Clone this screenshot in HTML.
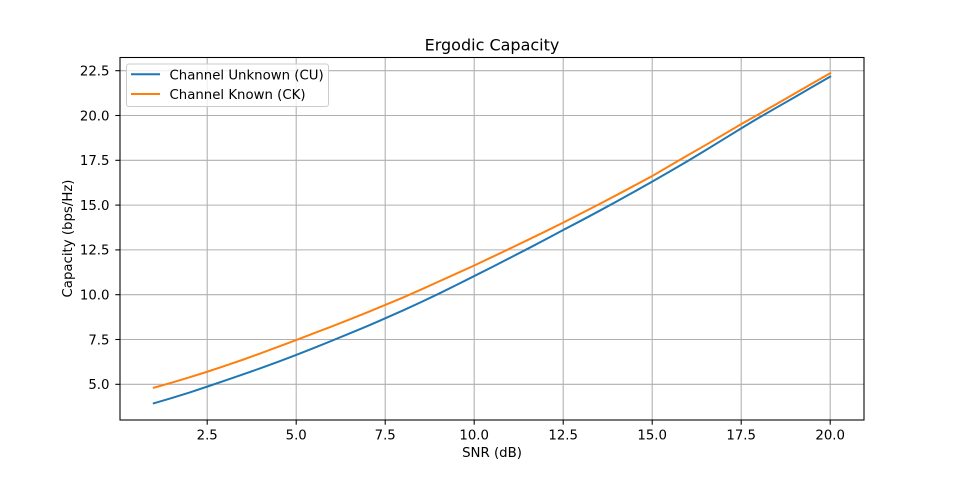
<!DOCTYPE html>
<html>
<head>
<meta charset="utf-8">
<style>
  html, body { margin:0; padding:0; background:#fff; }
  svg { display:block; }
  text { font-family: "DejaVu Sans", "Liberation Sans", sans-serif; fill:#000; }
</style>
</head>
<body>
<svg width="960" height="480" viewBox="0 0 960 480" xmlns="http://www.w3.org/2000/svg">
  <rect x="0" y="0" width="960" height="480" fill="#fff"/>
  <!-- grid -->
  <g stroke="#b0b0b0" stroke-width="1.07" fill="none">
    <line x1="207.2" y1="57.5" x2="207.2" y2="420"/>
    <line x1="296.2" y1="57.5" x2="296.2" y2="420"/>
    <line x1="385.2" y1="57.5" x2="385.2" y2="420"/>
    <line x1="474.2" y1="57.5" x2="474.2" y2="420"/>
    <line x1="563.2" y1="57.5" x2="563.2" y2="420"/>
    <line x1="652.2" y1="57.5" x2="652.2" y2="420"/>
    <line x1="741.2" y1="57.5" x2="741.2" y2="420"/>
    <line x1="830.2" y1="57.5" x2="830.2" y2="420"/>
    <line x1="120" y1="384.3" x2="864" y2="384.3"/>
    <line x1="120" y1="339.5" x2="864" y2="339.5"/>
    <line x1="120" y1="294.7" x2="864" y2="294.7"/>
    <line x1="120" y1="249.9" x2="864" y2="249.9"/>
    <line x1="120" y1="205.1" x2="864" y2="205.1"/>
    <line x1="120" y1="160.3" x2="864" y2="160.3"/>
    <line x1="120" y1="115.5" x2="864" y2="115.5"/>
    <line x1="120" y1="70.7" x2="864" y2="70.7"/>
  </g>
  <!-- series -->
  <g transform="matrix(35.598 0 0 -17.92 118.22 473.9)" fill="none" stroke-width="2" stroke-linejoin="round" stroke-linecap="square">
    <polyline vector-effect="non-scaling-stroke" stroke="#1f77b4"
      points="1,3.94 1.5,4.23 2,4.54 2.5,4.87 3,5.21 3.5,5.55 4,5.90 4.5,6.26 5,6.64 5.5,7.03 6,7.43 6.5,7.84 7,8.25 7.5,8.68 8,9.12 8.5,9.58 9,10.05 9.5,10.54 10,11.04 10.5,11.54 11,12.05 11.5,12.56 12,13.08 12.5,13.61 13,14.13 13.5,14.66 14,15.20 14.5,15.75 15,16.31 15.5,16.88 16,17.46 16.5,18.06 17,18.67 17.5,19.28 18,19.88 18.5,20.45 19,21.02 19.5,21.60 20,22.17"/>
    <polyline vector-effect="non-scaling-stroke" stroke="#ff7f0e"
      points="1,4.81 1.5,5.09 2,5.39 2.5,5.70 3,6.03 3.5,6.37 4,6.73 4.5,7.10 5,7.47 5.5,7.85 6,8.23 6.5,8.62 7,9.02 7.5,9.43 8,9.84 8.5,10.28 9,10.73 9.5,11.18 10,11.63 10.5,12.10 11,12.57 11.5,13.05 12,13.53 12.5,14.02 13,14.53 13.5,15.04 14,15.56 14.5,16.09 15,16.62 15.5,17.20 16,17.78 16.5,18.35 17,18.93 17.5,19.52 18,20.08 18.5,20.65 19,21.22 19.5,21.79 20,22.36"/>
  </g>
  <!-- spines -->
  <rect x="120" y="57.5" width="744" height="362.5" fill="none" stroke="#000" stroke-width="1.07"/>
  <!-- ticks -->
  <g stroke="#000" stroke-width="1.07">
    <line x1="207.2" y1="420" x2="207.2" y2="424.7"/>
    <line x1="296.2" y1="420" x2="296.2" y2="424.7"/>
    <line x1="385.2" y1="420" x2="385.2" y2="424.7"/>
    <line x1="474.2" y1="420" x2="474.2" y2="424.7"/>
    <line x1="563.2" y1="420" x2="563.2" y2="424.7"/>
    <line x1="652.2" y1="420" x2="652.2" y2="424.7"/>
    <line x1="741.2" y1="420" x2="741.2" y2="424.7"/>
    <line x1="830.2" y1="420" x2="830.2" y2="424.7"/>
    <line x1="115.3" y1="384.3" x2="120" y2="384.3"/>
    <line x1="115.3" y1="339.5" x2="120" y2="339.5"/>
    <line x1="115.3" y1="294.7" x2="120" y2="294.7"/>
    <line x1="115.3" y1="249.9" x2="120" y2="249.9"/>
    <line x1="115.3" y1="205.1" x2="120" y2="205.1"/>
    <line x1="115.3" y1="160.3" x2="120" y2="160.3"/>
    <line x1="115.3" y1="115.5" x2="120" y2="115.5"/>
    <line x1="115.3" y1="70.7" x2="120" y2="70.7"/>
  </g>
  <!-- x tick labels -->
  <g font-size="13.3" text-anchor="middle">
    <text x="207.2" y="439.5">2.5</text>
    <text x="296.2" y="439.5">5.0</text>
    <text x="385.2" y="439.5">7.5</text>
    <text x="474.2" y="439.5">10.0</text>
    <text x="563.2" y="439.5">12.5</text>
    <text x="652.2" y="439.5">15.0</text>
    <text x="741.2" y="439.5">17.5</text>
    <text x="830.2" y="439.5">20.0</text>
  </g>
  <!-- y tick labels -->
  <g font-size="13.3" text-anchor="end">
    <text x="109.5" y="389.1">5.0</text>
    <text x="109.5" y="344.3">7.5</text>
    <text x="109.5" y="299.5">10.0</text>
    <text x="109.5" y="254.7">12.5</text>
    <text x="109.5" y="209.9">15.0</text>
    <text x="109.5" y="165.1">17.5</text>
    <text x="109.5" y="120.3">20.0</text>
    <text x="109.5" y="75.5">22.5</text>
  </g>
  <!-- labels -->
  <text x="492" y="50.5" font-size="16" text-anchor="middle">Ergodic Capacity</text>
  <text x="492" y="456.8" font-size="13.3" text-anchor="middle">SNR (dB)</text>
  <text transform="translate(71.8 238.5) rotate(-90)" font-size="13.3" text-anchor="middle">Capacity (bps/Hz)</text>
  <!-- legend -->
  <rect x="126.5" y="64" width="202" height="42.5" rx="2.5" ry="2.5" fill="#fff" fill-opacity="0.8" stroke="#cccccc" stroke-width="1"/>
  <line x1="131" y1="74.3" x2="160" y2="74.3" stroke="#1f77b4" stroke-width="2"/>
  <line x1="131" y1="94" x2="160" y2="94" stroke="#ff7f0e" stroke-width="2"/>
  <text x="169.5" y="79.3" font-size="13.3">Channel Unknown (CU)</text>
  <text x="169.5" y="99" font-size="13.3">Channel Known (CK)</text>
</svg>
</body>
</html>
